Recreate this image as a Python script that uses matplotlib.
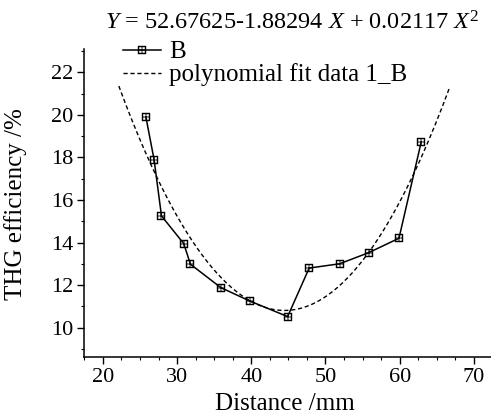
import matplotlib
matplotlib.use("Agg")
import matplotlib.pyplot as plt
import numpy as np
from matplotlib.ticker import MultipleLocator

plt.rcParams['font.family'] = ['Liberation Serif', 'DejaVu Serif']
plt.rcParams['mathtext.fontset'] = 'custom'
plt.rcParams['mathtext.rm'] = 'Liberation Serif'
plt.rcParams['mathtext.it'] = 'Liberation Serif:italic'

# measured points (series B)
distance = [25.8, 26.9, 27.9, 30.9, 31.8, 35.9, 39.8, 44.9, 47.8, 51.9, 55.8, 59.9, 62.9]
efficiency = [19.9, 17.9, 15.25, 13.95, 12.98, 11.88, 11.25, 10.52, 12.8, 13.0, 13.52, 14.2, 18.73]

# quadratic fit coefficients, Y = a + b X + c X^2
fit_coef = [52.67625, -1.88294, 0.02117]
fit_range = [22.15, 66.65]

x_ticks = [20, 30, 40, 50, 60, 70]
y_ticks = [10, 12, 14, 16, 18, 20, 22]

fig = plt.figure(figsize=(4.91, 4.18), dpi=100)
ax = fig.add_axes([84.3 / 491, 1 - 357 / 418, 1 - 84.3 / 491, (357 - 49.3) / 418])

xf = np.linspace(fit_range[0], fit_range[1], 200)
yf = fit_coef[0] + fit_coef[1] * xf + fit_coef[2] * xf ** 2

ax.plot(distance, efficiency, color='black', lw=1.1, marker=r'$\boxplus$', ms=6,
        mew=0.3, label='B')
ax.plot(xf, yf, color='black', lw=1.0, ls=(0, (3, 2)), label='polynomial fit data 1_B')

ax.set_xlim(17.5, 72.3)
ax.set_ylim(8.62, 23.08)
ax.set_xticks(x_ticks)
ax.set_yticks(y_ticks)
ax.xaxis.set_minor_locator(MultipleLocator(2.5))
ax.yaxis.set_minor_locator(MultipleLocator(1))
ax.tick_params(which='major', direction='out', length=5, width=1, labelsize=16, pad=3)
ax.tick_params(which='minor', direction='out', length=2.5, width=0.8)
for s in ['top', 'right']:
    ax.spines[s].set_visible(False)
for s in ['left', 'bottom']:
    ax.spines[s].set_linewidth(1.1)

ax.legend(loc='upper left', bbox_to_anchor=(123 / 491, 1 - 41 / 418),
          bbox_transform=fig.transFigure, frameon=False, fontsize=18,
          handlelength=1.5, handletextpad=0.33, labelspacing=0.0, borderpad=0,
          borderaxespad=0)

fig.text(292 / 491, 1 - 23 / 418,
         r'$Y$ = 52.67625-1.88294 $X$ + 0.02117 $X^2$',
         ha='center', va='center', fontsize=17.5)
fig.text(285 / 491, 1 - 404 / 418, 'Distance /mm', ha='center', va='center', fontsize=18)
fig.text(16 / 491, 1 - 204 / 418, 'THG efficiency /%', ha='center', va='center',
         rotation=90, fontsize=18)

fig.savefig('out.png', dpi=100)
